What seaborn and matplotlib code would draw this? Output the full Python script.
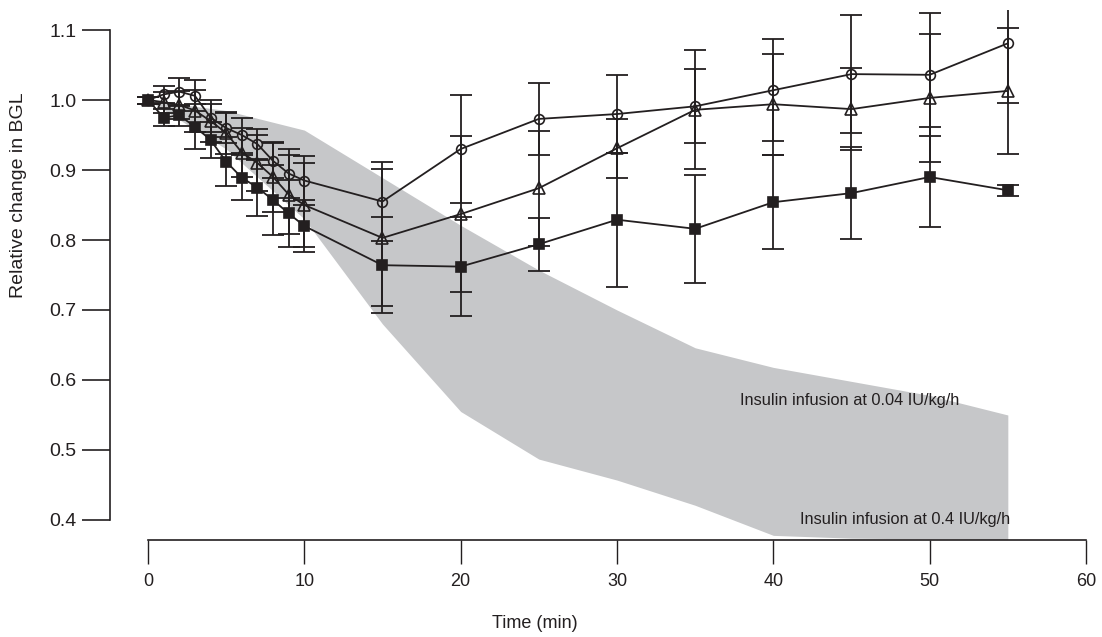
import matplotlib
matplotlib.use("Agg")
import matplotlib.pyplot as plt
import numpy as np
import pandas as pd
import seaborn as sns

# Sampling times (min)
time = [0, 1, 2, 3, 4, 5, 6, 7, 8, 9, 10, 15, 20, 25, 30, 35, 40, 45, 50, 55]

# Open circles
circle_mean = [1.000, 1.008, 1.012, 1.006, 0.975, 0.960, 0.950, 0.937, 0.913, 0.895, 0.885,
               0.855, 0.930, 0.973, 0.980, 0.991, 1.014, 1.037, 1.036, 1.081]
circle_sd = [0.005, 0.012, 0.020, 0.022, 0.020, 0.022, 0.025, 0.022, 0.025, 0.035, 0.035,
             0.056, 0.077, 0.051, 0.056, 0.053, 0.073, 0.084, 0.088, 0.085]

# Open triangles
triangle_mean = [1.000, 0.997, 0.993, 0.985, 0.970, 0.953, 0.925, 0.910, 0.890, 0.865, 0.850,
                 0.803, 0.837, 0.874, 0.931, 0.986, 0.994, 0.987, 1.003, 1.013]
triangle_sd = [0.005, 0.015, 0.020, 0.030, 0.030, 0.030, 0.035, 0.040, 0.050, 0.057, 0.060,
               0.098, 0.111, 0.082, 0.042, 0.085, 0.072, 0.059, 0.091, 0.090]

# Filled squares
square_mean = [1.000, 0.975, 0.978, 0.962, 0.943, 0.912, 0.889, 0.875, 0.857, 0.838, 0.820,
               0.764, 0.762, 0.794, 0.829, 0.816, 0.854, 0.867, 0.890, 0.871]
square_sd = [0.005, 0.012, 0.015, 0.032, 0.026, 0.035, 0.032, 0.041, 0.050, 0.048, 0.037,
             0.069, 0.071, 0.038, 0.096, 0.077, 0.067, 0.066, 0.071, 0.008]

# Shaded range between the two insulin infusion rates
band_time = [0, 5, 10, 15, 20, 25, 30, 35, 40, 45, 50, 55]
band_upper = [1.000, 0.985, 0.957, 0.889, 0.821, 0.757, 0.700, 0.646, 0.618, 0.598, 0.578, 0.550]
band_lower = [1.000, 0.930, 0.830, 0.680, 0.555, 0.487, 0.457, 0.421, 0.378, 0.374, 0.373, 0.372]

x_ticks = [0, 10, 20, 30, 40, 50, 60]
y_ticks = [0.4, 0.5, 0.6, 0.7, 0.8, 0.9, 1.0, 1.1]
y_tick_labels = ["0.4", "0.5", "0.6", "0.7", "0.8", "0.9", "1.0", "1.1"]

sns.set_style("ticks")
plt.rcParams["font.family"] = ["Liberation Sans", "DejaVu Sans"]

ink = "#231f20"
shade = "#c6c7c9"

fig = plt.figure(figsize=(11.02, 6.37), dpi=100)
ax = fig.add_axes([110 / 1102, 97 / 637, 976 / 1102, 530 / 637])

ax.fill_between(band_time, band_lower, band_upper, color=shade, linewidth=0, zorder=1)

series = [
    (circle_mean, circle_sd, dict(marker="o", markersize=7, markerfacecolor="none")),
    (triangle_mean, triangle_sd, dict(marker="^", markersize=8.5, markerfacecolor="none")),
    (square_mean, square_sd, dict(marker="s", markersize=6.5, markerfacecolor=ink)),
]

for mean, sd, style in series:
    ax.errorbar(time, mean, yerr=sd, fmt="none", ecolor=ink, elinewidth=1.3,
                capsize=8, capthick=1.3, zorder=2)
    df = pd.DataFrame({"time": time, "value": mean})
    sns.lineplot(data=df, x="time", y="value", ax=ax, color=ink, linewidth=1.3,
                 markeredgecolor=ink, markeredgewidth=1.2, errorbar=None,
                 zorder=3, **style)

ax.text(37.9, 0.571, "Insulin infusion at 0.04 IU/kg/h", fontsize=11.8, color=ink,
        va="center", ha="left")
ax.text(41.7, 0.401, "Insulin infusion at 0.4 IU/kg/h", fontsize=11.8, color=ink,
        va="center", ha="left")

ax.set_xlim(-2.43, 60.0)
ax.set_ylim(0.3714, 1.1286)

ax.set_xticks(x_ticks)
ax.set_yticks(y_ticks)
ax.set_yticklabels(y_tick_labels)

for side in ("top", "right"):
    ax.spines[side].set_visible(False)
ax.spines["left"].set_bounds(0.4, 1.1)
ax.spines["bottom"].set_bounds(0, 60)
for side in ("left", "bottom"):
    ax.spines[side].set_color(ink)
    ax.spines[side].set_linewidth(1.2)

ax.tick_params(axis="y", direction="out", length=20, width=1.2, pad=4,
               labelsize=14, colors=ink)
ax.tick_params(axis="x", direction="out", length=17, width=1.0, pad=7,
               labelsize=13, colors=ink)

ax.set_xlabel("Time (min)", fontsize=13, color=ink)
ax.set_ylabel("Relative change in BGL", fontsize=14, color=ink)
ax.xaxis.set_label_coords(0.435, -0.142)
ax.yaxis.set_label_coords(-0.085, 0.65)

fig.savefig("out.png", dpi=100, facecolor="white")
